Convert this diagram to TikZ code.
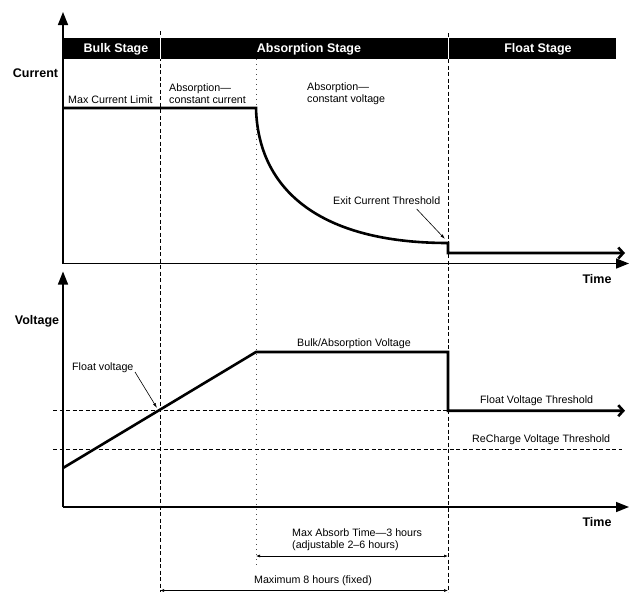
\documentclass[tikz,border=0pt]{standalone}
\usepackage{fontspec}
\setmainfont{Liberation Sans}
\usetikzlibrary{arrows.meta}
\begin{document}
\begin{tikzpicture}[x=1pt,y=-1pt,
  axis/.style={line width=1.5pt,-{Triangle[length=13pt,width=10pt]}},
  trace/.style={line width=2.6pt},
  tracearrow/.style={line width=2.6pt,-{Straight Barb[length=5pt,width=11pt]}},
  guide/.style={line width=0.7pt,dash pattern=on 4pt off 2.5pt},
  dotguide/.style={line width=1pt,dash pattern=on 1pt off 4pt,black!70},
  lbl/.style={font=\fontsize{10.7}{12}\selectfont,inner sep=0pt},
  blbl/.style={font=\fontsize{12.5}{14}\selectfont\bfseries,inner sep=0pt},
  dimarrow/.style={line width=0.6pt,{Latex[length=4pt,width=3pt]}-{Latex[length=4pt,width=3pt]}},
  pointer/.style={line width=0.6pt,-{Latex[length=5pt,width=3pt]}}]
\useasboundingbox (0,0) rectangle (629,592);

% header band
\fill[black] (63,38) rectangle (616,59);

% vertical guides
\coordinate (g1t) at (160,31); \coordinate (g1b) at (160,592);
\coordinate (g3t) at (448,33); \coordinate (g3b) at (448,592);
\coordinate (g2t) at (256,59); \coordinate (g2b) at (256,567);
\draw[guide] (g1t) -- (g1b);
\draw[guide] (g3t) -- (g3b);
\draw[dotguide] (g2t) -- (g2b);
\draw[white,line width=1pt] (160,38) -- (160,59);
\draw[white,line width=1pt] (448,38) -- (448,59);

\node[blbl,text=white] (bulk) at (116,49.5) {Bulk Stage};
\node[blbl,text=white] (abs) at (309,49.5) {Absorption Stage};
\node[blbl,text=white] (flt) at (538,49.5) {Float Stage};

% current panel axes
\coordinate (O1) at (63,263.5);
\coordinate (Y1) at (63,12);
\coordinate (X1) at (629,263.5);
\draw[axis] (O1) -- (Y1);
\draw[axis] (O1) -- (X1);

% voltage panel axes
\coordinate (O2) at (63,507);
\coordinate (Y2) at (63,271.5);
\coordinate (X2) at (629,507);
\draw[axis] (O2) -- (Y2);
\draw[axis] (O2) -- (X2);

% horizontal thresholds
\coordinate (fvl) at (53,410.7); \coordinate (fvr) at (448,410.7);
\coordinate (rvl) at (53,449.3); \coordinate (rvr) at (622,449.3);
\draw[guide] (fvl) -- (fvr);
\draw[guide] (rvl) -- (rvr);

% current trace
\coordinate (c0) at (63,108);
\coordinate (c1) at (256,108);
\coordinate (c2) at (448,243);
\coordinate (c3) at (448,253);
\coordinate (c4) at (625,253);
\draw[tracearrow] (c0) -- (c1) .. controls (258,190) and (320,243) .. (c2) -- (c3) -- (c4);

% voltage trace
\coordinate (v0) at (63,468);
\coordinate (v1) at (256,352);
\coordinate (v2) at (448,352);
\coordinate (v3) at (448,410.7);
\coordinate (v4) at (625,410.7);
\draw[tracearrow] (v0) -- (v1) -- (v2) -- (v3) -- (v4);

% labels
\node[blbl] (curlbl) at (35.5,73) {Current};
\node[blbl] (time1) at (597,279.3) {Time};
\node[blbl] (vollbl) at (37,321) {Voltage};
\node[blbl] (time2) at (597,522.5) {Time};

\node[lbl,anchor=west] (maxcur) at (68,99.5) {Max Current Limit};
\node[lbl,anchor=west,align=left] (acc) at (169,94) {Absorption—\\constant current};
\node[lbl,anchor=west,align=left] (acv) at (307,94) {Absorption—\\constant voltage};
\node[lbl,anchor=west] (exit) at (333,200.7) {Exit Current Threshold};
\node[lbl,anchor=west] (fv) at (72,367.7) {Float voltage};
\node[lbl,anchor=west] (bav) at (297,343.3) {Bulk/Absorption Voltage};
\node[lbl,anchor=west] (fvt) at (480,400.7) {Float Voltage Threshold};
\node[lbl,anchor=west] (rvt) at (472,440) {ReCharge Voltage Threshold};
\node[lbl,anchor=west,align=left] (mat) at (292,540) {Max Absorb Time—3 hours\\(adjustable 2–6 hours)};
\node[lbl] (m8) at (313,581) {Maximum 8 hours (fixed)};

% pointers
\coordinate (exitpt) at (445,239);
\coordinate (fvpt) at (157,408);
\draw[pointer] (416.7,209) -- (exitpt);
\draw[pointer] (135,372) -- (fvpt);

% dimension arrows
\coordinate (d1a) at (256,556); \coordinate (d1b) at (448,556);
\coordinate (d2a) at (160,590.5); \coordinate (d2b) at (448,590.5);
\draw[dimarrow] (d1a) -- (d1b);
\draw[dimarrow] (d2a) -- (d2b);
\end{tikzpicture}
\end{document}
